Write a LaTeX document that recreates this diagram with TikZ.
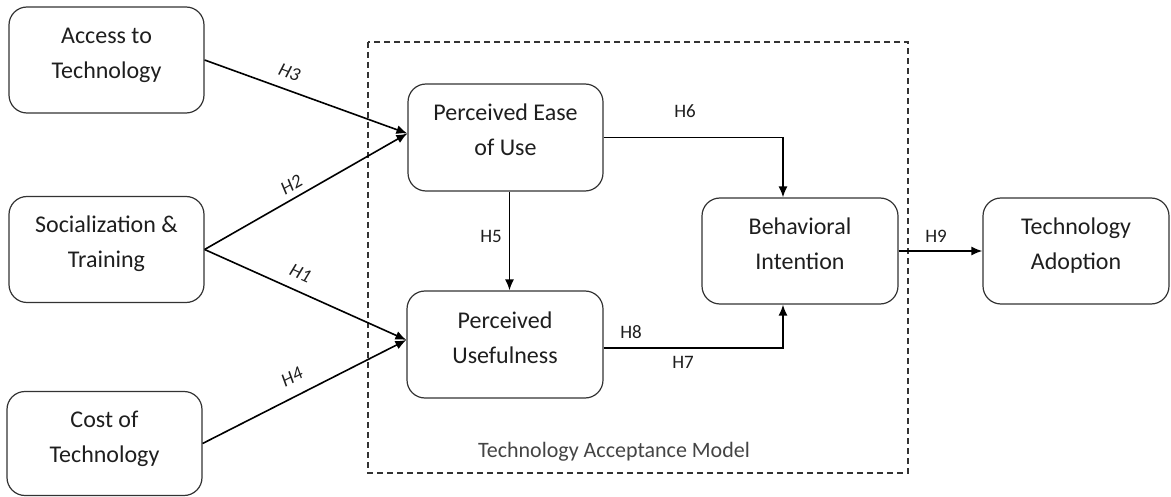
\documentclass[tikz,border=0pt]{standalone}
\usepackage{fontspec}
\setmainfont{Carlito}
\usetikzlibrary{arrows.meta,calc}
\definecolor{txt}{HTML}{1E1E1E}
\definecolor{lbl}{HTML}{444444}
\tikzset{
  box/.style={draw=black!80, line width=1.2pt, rounded corners=18pt, align=center,
    font=\fontsize{24}{35}\selectfont, text=txt, inner sep=0pt,
    text height=46pt, text depth=9pt},
  conn/.style={line width=1.6pt, -{Latex[length=11pt,width=9pt]}},
  hlab/.style={font=\fontsize{19}{19}\selectfont, text=txt, inner sep=1pt},
  hit/.style={hlab, font=\fontsize{19}{19}\selectfont\itshape},
}
\begin{document}
\begin{tikzpicture}[x=1pt,y=-1pt]
\useasboundingbox (0,0) rectangle (1171,497);
% dashed TAM frame
\draw[line width=1.4pt, dash pattern=on 6pt off 4pt, black!80] (368,42) rectangle (908,473);
\node[font=\fontsize{22}{22}\selectfont, text=lbl] (tam) at (614,452) {Technology Acceptance Model};
% boxes
\node[box, minimum width=195, minimum height=106] (acc) at (106.5,60) {Access to\\Technology};
\node[box, minimum width=195, minimum height=106] (soc) at (106.5,249.5) {Socialization \&\\Training};
\node[box, minimum width=195, minimum height=104] (cost) at (104.5,443.5) {Cost of\\Technology};
\node[box, minimum width=195, minimum height=107] (peu) at (505.5,137.5) {Perceived Ease\\of Use};
\node[box, minimum width=196, minimum height=107] (pu) at (505,344.5) {Perceived\\Usefulness};
\node[box, minimum width=196, minimum height=106] (bi) at (800,251) {Behavioral\\Intention};
\node[box, minimum width=186, minimum height=106] (ta) at (1076,251) {Technology\\Adoption};
% connectors
\coordinate (peuin) at ($(peu.west)+(0,-4)$);
\coordinate (puin) at ($(pu.west)+(0,-4.5)$);
\draw[conn] (acc.east) -- node[hit, above=9pt, sloped, pos=0.39] (h3) {H3} (peuin);
\draw[conn] (soc.east) -- node[hit, above=5pt, sloped, pos=0.46] (h2) {H2} (peuin);
\draw[conn] (soc.east) -- node[hit, above=10pt, sloped, pos=0.44] (h1) {H1} (puin);
\draw[conn] (cost.east) -- node[hit, above=11pt, sloped, pos=0.48] (h4) {H4} (puin);
\coordinate (peuout) at ($(peu.south)+(4,0)$);
\draw[conn] (peuout) -- (peuout |- pu.north);
\node[hlab] (h5) at (491,236) {H5};
\coordinate (bitop) at ($(bi.north)+(-17,0)$);
\coordinate (bibot) at ($(bi.south)+(-17,0)$);
\draw[conn] (peu.east) -| (bitop);
\node[hlab] (h6) at (685,111) {H6};
\coordinate (puout) at ($(pu.east)+(0,3.5)$);
\draw[conn] (puout) -| (bibot);
\node[hlab] (h8) at (631,332) {H8};
\node[hlab] (h7) at (683,362) {H7};
\draw[conn] (bi.east) -- (ta.west);
\node[hlab] (h9) at (936,236) {H9};
\end{tikzpicture}
\end{document}
